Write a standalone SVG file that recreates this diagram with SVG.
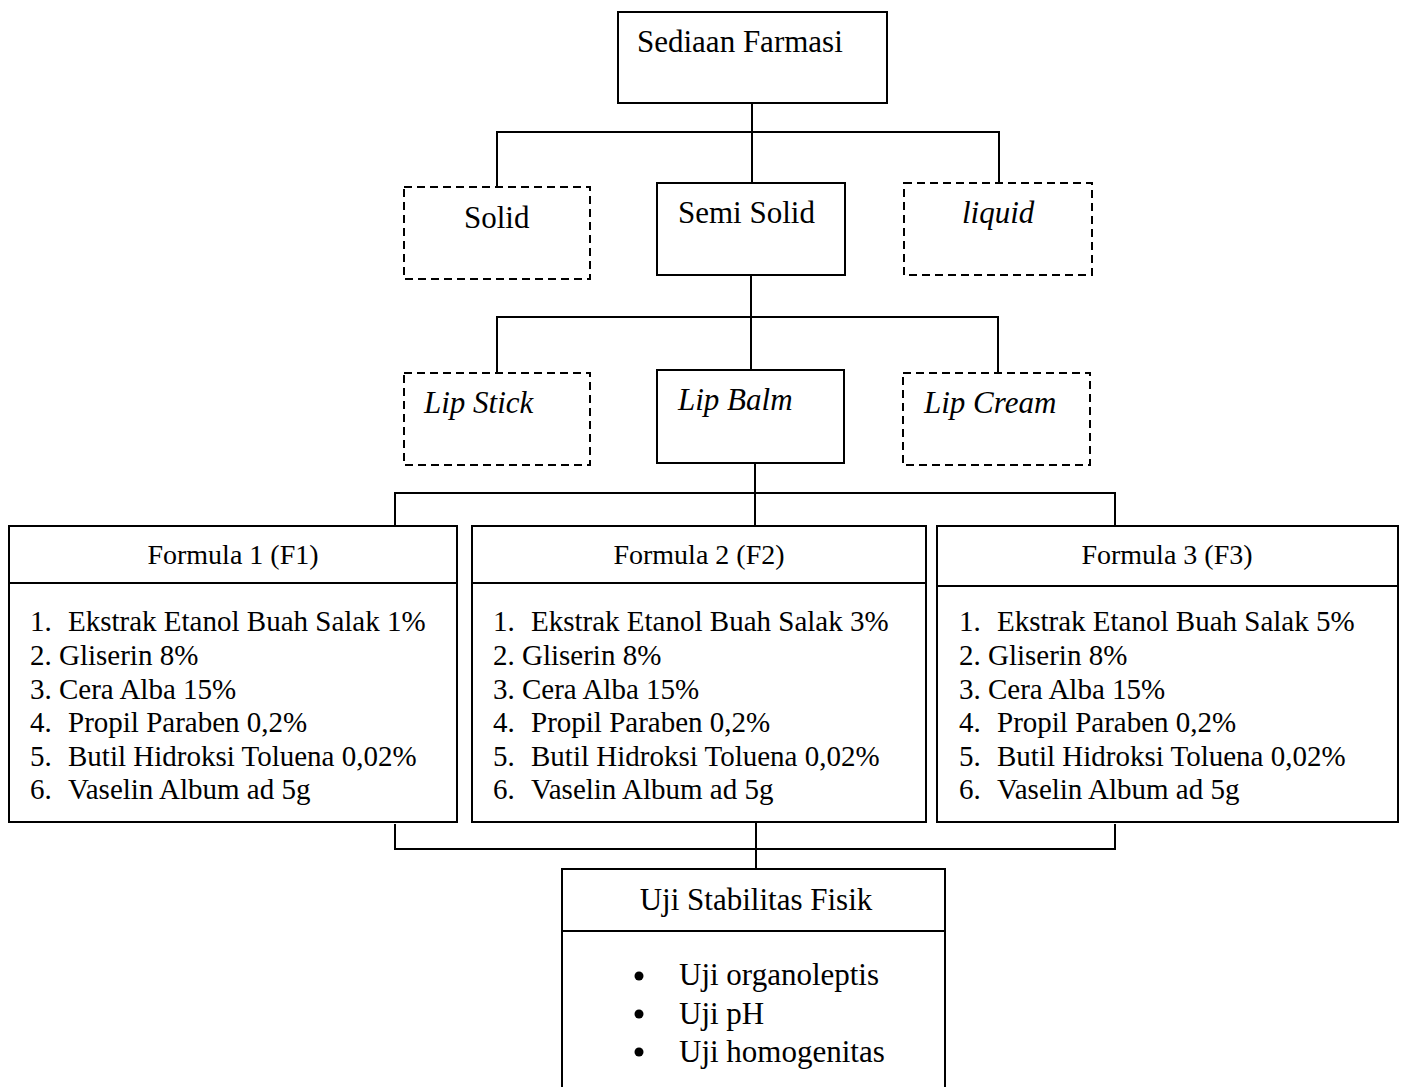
<svg xmlns="http://www.w3.org/2000/svg" width="1405" height="1087" viewBox="0 0 1405 1087">
<style>
.box{fill:#fff;stroke:#000;stroke-width:2}
.dash{fill:#fff;stroke:#000;stroke-width:2;stroke-dasharray:8 5}
.ln{fill:none;stroke:#000;stroke-width:2}
.t{font-family:"Liberation Serif","Times New Roman",serif;font-size:31px;fill:#000}
.i{font-style:italic}
.f{font-family:"Liberation Serif","Times New Roman",serif;font-size:29px;fill:#000}
.h{font-family:"Liberation Serif","Times New Roman",serif;font-size:28px;fill:#000;text-anchor:middle}
</style>
<rect width="1405" height="1087" fill="#fff"/>
<g id="connectors">
<path class="ln" d="M752 103V183M497 187V132H999V183"/>
<path class="ln" d="M751 275V370M497 373V317H998V373"/>
<path class="ln" d="M755 463V526M395 526V493H1115V526"/>
<path class="ln" d="M395 824V849H1115V824M756 822V869"/>
</g>
<g id="sediaan-farmasi">
<rect class="box" x="618" y="12" width="269" height="91"/>
<text class="t" x="637" y="52">Sediaan Farmasi</text>
</g>
<g id="solid">
<rect class="dash" x="404" y="187" width="186" height="92"/>
<text class="t" x="464" y="228">Solid</text>
</g>
<g id="semi-solid">
<rect class="box" x="657" y="183" width="188" height="92"/>
<text class="t" x="678" y="223">Semi Solid</text>
</g>
<g id="liquid">
<rect class="dash" x="904" y="183" width="188" height="92"/>
<text class="t i" x="962" y="223">liquid</text>
</g>
<g id="lip-stick">
<rect class="dash" x="404" y="373" width="186" height="92"/>
<text class="t i" x="424" y="413">Lip Stick</text>
</g>
<g id="lip-balm">
<rect class="box" x="657" y="370" width="187" height="93"/>
<text class="t i" x="678" y="410">Lip Balm</text>
</g>
<g id="lip-cream">
<rect class="dash" x="903" y="373" width="187" height="92"/>
<text class="t i" x="924" y="413">Lip Cream</text>
</g>
<g id="formula-1">
<rect class="box" x="9" y="526" width="448" height="296"/>
<line class="ln" x1="9" y1="583" x2="457" y2="583"/>
<text class="h" x="233" y="564">Formula 1 (F1)</text>
<text class="f"><tspan x="30" y="631">1.</tspan><tspan x="68">Ekstrak Etanol Buah Salak 1%</tspan></text>
<text class="f" x="30" y="665">2. Gliserin 8%</text>
<text class="f" x="30" y="699">3. Cera Alba 15%</text>
<text class="f"><tspan x="30" y="732">4.</tspan><tspan x="68">Propil Paraben 0,2%</tspan></text>
<text class="f"><tspan x="30" y="766">5.</tspan><tspan x="68">Butil Hidroksi Toluena 0,02%</tspan></text>
<text class="f"><tspan x="30" y="799">6.</tspan><tspan x="68">Vaselin Album ad 5g</tspan></text>
</g>
<g id="formula-2">
<rect class="box" x="472" y="526" width="454" height="296"/>
<line class="ln" x1="472" y1="583" x2="926" y2="583"/>
<text class="h" x="699" y="564">Formula 2 (F2)</text>
<text class="f"><tspan x="493" y="631">1.</tspan><tspan x="531">Ekstrak Etanol Buah Salak 3%</tspan></text>
<text class="f" x="493" y="665">2. Gliserin 8%</text>
<text class="f" x="493" y="699">3. Cera Alba 15%</text>
<text class="f"><tspan x="493" y="732">4.</tspan><tspan x="531">Propil Paraben 0,2%</tspan></text>
<text class="f"><tspan x="493" y="766">5.</tspan><tspan x="531">Butil Hidroksi Toluena 0,02%</tspan></text>
<text class="f"><tspan x="493" y="799">6.</tspan><tspan x="531">Vaselin Album ad 5g</tspan></text>
</g>
<g id="formula-3">
<rect class="box" x="937" y="526" width="461" height="296"/>
<line class="ln" x1="937" y1="586" x2="1398" y2="586"/>
<text class="h" x="1167" y="564">Formula 3 (F3)</text>
<text class="f"><tspan x="959" y="631">1.</tspan><tspan x="997">Ekstrak Etanol Buah Salak 5%</tspan></text>
<text class="f" x="959" y="665">2. Gliserin 8%</text>
<text class="f" x="959" y="699">3. Cera Alba 15%</text>
<text class="f"><tspan x="959" y="732">4.</tspan><tspan x="997">Propil Paraben 0,2%</tspan></text>
<text class="f"><tspan x="959" y="766">5.</tspan><tspan x="997">Butil Hidroksi Toluena 0,02%</tspan></text>
<text class="f"><tspan x="959" y="799">6.</tspan><tspan x="997">Vaselin Album ad 5g</tspan></text>
</g>
<g id="uji-stabilitas-fisik">
<rect class="box" x="562" y="869" width="383" height="240"/>
<line class="ln" x1="562" y1="931" x2="945" y2="931"/>
<text class="t" x="756" y="910" text-anchor="middle">Uji Stabilitas Fisik</text>
<circle cx="639" cy="976" r="4.5"/>
<circle cx="639" cy="1014" r="4.5"/>
<circle cx="639" cy="1052" r="4.5"/>
<text class="t" x="679" y="985">Uji organoleptis</text>
<text class="t" x="679" y="1024">Uji pH</text>
<text class="t" x="679" y="1062">Uji homogenitas</text>
</g>
</svg>
